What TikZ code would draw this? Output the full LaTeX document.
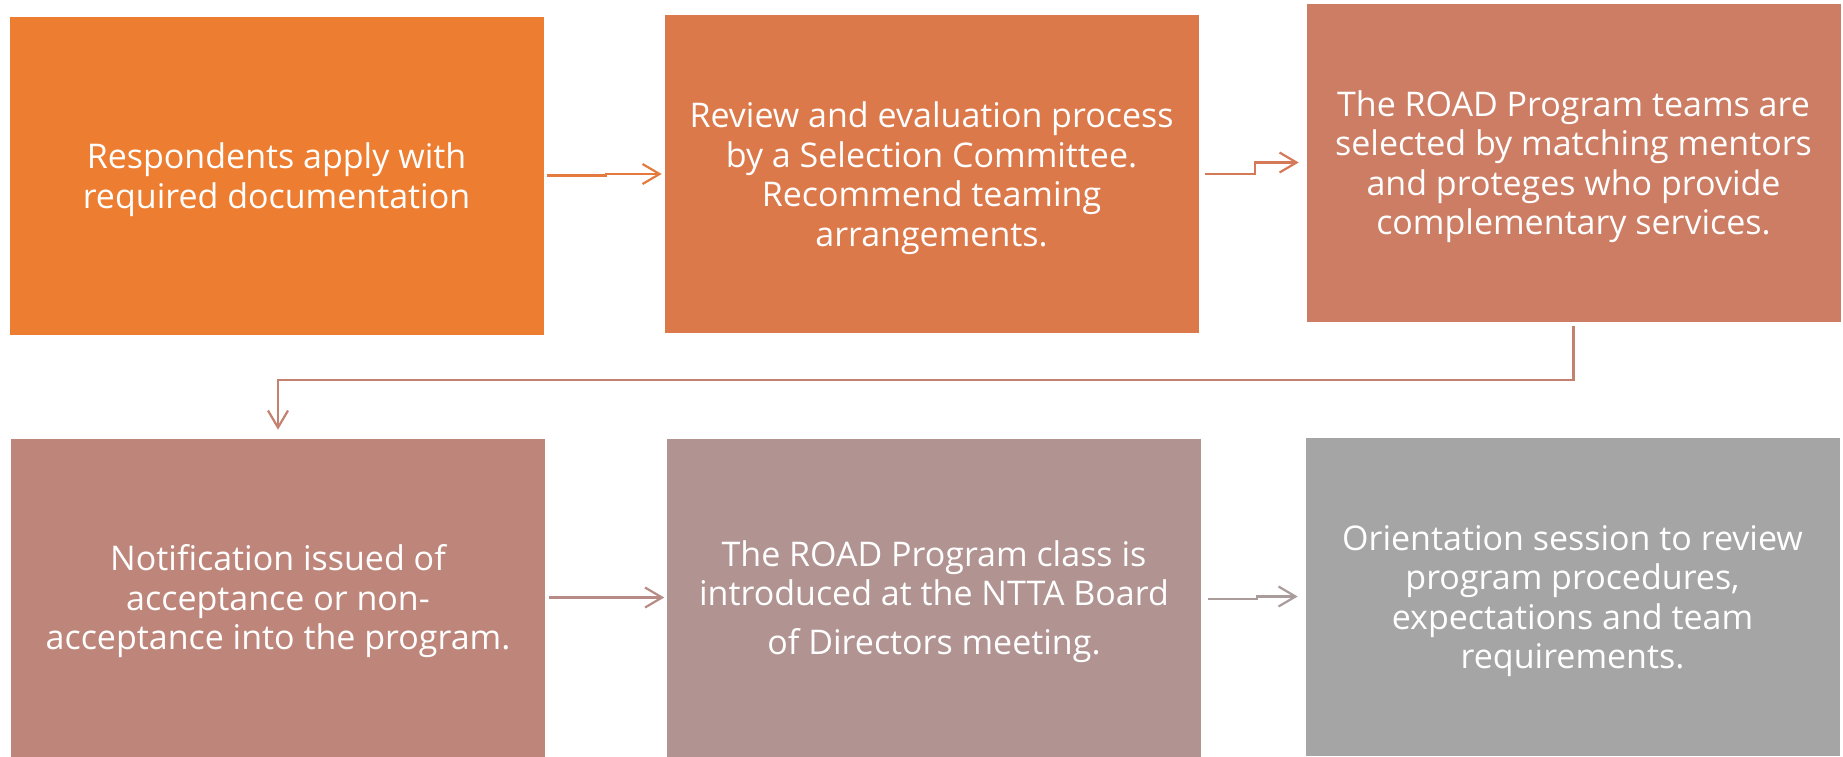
\documentclass[tikz,border=0pt]{standalone}
\usepackage{fontspec}
\setmainfont{Open Sans}
\usetikzlibrary{arrows.meta}
\definecolor{c1}{HTML}{ED7D31}
\definecolor{c2}{HTML}{DC794B}
\definecolor{c3}{HTML}{CC7D64}
\definecolor{c4}{HTML}{BE867B}
\definecolor{c5}{HTML}{B19491}
\definecolor{c6}{HTML}{A5A5A5}
\definecolor{k1}{HTML}{E47A3E}
\definecolor{k2}{HTML}{D47A58}
\definecolor{k3}{HTML}{C58170}
\definecolor{k4}{HTML}{B78C87}
\definecolor{k5}{HTML}{AB9C9C}
\newcommand{\toppad}{\rule{0pt}{34pt}}
\begin{document}
\begin{tikzpicture}[x=1pt,y=-1pt,
  box/.style={rectangle, inner sep=0pt, minimum width=535pt, minimum height=319pt,
    text=white, align=center, font=\fontsize{34}{39.5}\selectfont, draw=white, line width=0.6pt},
  conn/.style={line width=2.2pt, -{Straight Barb[length=17pt,width=20pt]}}]
\useasboundingbox (0,0) rectangle (1843,756);
\fill[white] (0,0) rectangle (1843,756);
\node[box, fill=c1] (b1) at (276.5,175.5) {\toppad Respondents apply with\\required documentation};
\node[box, fill=c2] (b2) at (931.5,174) {\toppad Review and evaluation process\\by a Selection Committee.\\Recommend teaming\\arrangements.};
\node[box, fill=c3] (b3) at (1573.5,162.5) {\toppad The ROAD Program teams are\\selected by matching mentors\\and proteges who provide\\complementary services.};
\node[box, fill=c4] (b4) at (278,597.5) {\toppad Notification issued of\\acceptance or non-\\acceptance into the program.};
\node[box, fill=c5] (b5) at (934,597.5) {\toppad The ROAD Program class is\\introduced at the NTTA Board\\[9pt]of Directors meeting.};
\node[box, fill=c6] (b6) at (1572.5,596.5) {\toppad Orientation session to review\\program procedures,\\expectations and team\\requirements.};
\draw[conn, k1] ([xshift=3pt]b1.east) -- ++(59,0) |- ([xshift=-2pt]b2.west);
\draw[conn, k2] ([xshift=6pt]b2.east) -- ++(50,0) |- ([xshift=-7pt]b3.west);
\draw[conn, k3] ([yshift=-4pt]b3.south) -- ++(0,54) -| ([yshift=8pt]b4.north);
\draw[conn, k4] ([xshift=3pt]b4.east) -- ([xshift=-2pt]b5.west);
\draw[conn, k5] ([xshift=6pt,yshift=-1.5pt]b5.east) -- ++(49,0) |- ([xshift=-7pt]b6.west);
\end{tikzpicture}
\end{document}
